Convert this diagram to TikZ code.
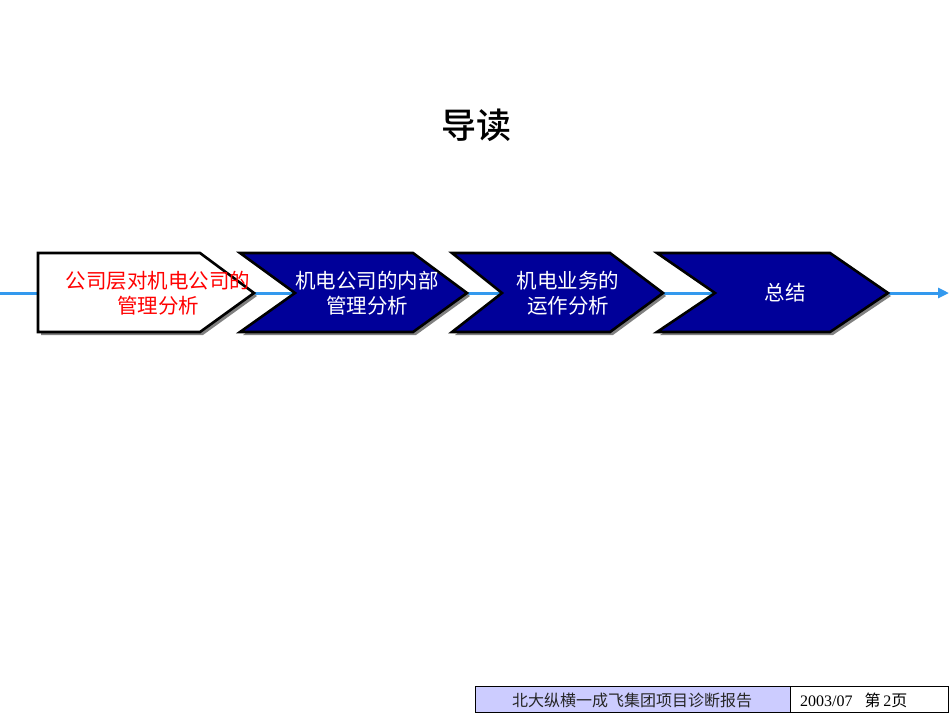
\documentclass[tikz,border=0pt]{standalone}
\usepackage{fontspec}
\setmainfont{Liberation Serif}
\newfontfamily\cjk{Noto Sans CJK SC}
\newfontfamily\cjkb{Noto Sans CJK SC Medium}
\usetikzlibrary{arrows.meta}
\definecolor{navy}{HTML}{000099}
\definecolor{flow}{HTML}{3399EE}
\definecolor{lav}{HTML}{CCCCFF}
\definecolor{shade}{HTML}{808080}
\tikzset{
  chev/.style={draw=black, line width=2.6pt, line join=miter},
  shadowpath/.style={fill=shade, draw=none},
  lbl/.style={align=center, font=\cjk\fontsize{20.5}{25}\selectfont, inner sep=0pt},
  foot/.style={draw=black, line width=0.6pt},
}
\begin{document}
\begin{tikzpicture}[x=1pt,y=-1pt]
\useasboundingbox (0,0) rectangle (950,713);
% flow line
\coordinate (fs) at (0,293);
\coordinate (fe) at (949,293);
\draw[flow, line width=3pt, -{Triangle[length=11pt,width=10pt]}] (fs) -- (fe);
% shadows
\fill[shadowpath] (41,256) -- (203,256) -- (257,296) -- (203,335) -- (41,335) -- cycle;
\fill[shadowpath] (243,256) -- (416,256) -- (470,296) -- (416,335) -- (243,335) -- (298,296) -- cycle;
\fill[shadowpath] (455,256) -- (613,256) -- (666,296) -- (613,335) -- (455,335) -- (505,296) -- cycle;
\fill[shadowpath] (660,256) -- (833,256) -- (891,296) -- (833,335) -- (660,335) -- (718,296) -- cycle;
% chevrons
\draw[chev, fill=white] (38,253) -- (200,253) -- (254,293) -- (200,332) -- (38,332) -- cycle;
\draw[chev, fill=navy] (240,253) -- (413,253) -- (467,293) -- (413,332) -- (240,332) -- (295,293) -- cycle;
\draw[chev, fill=navy] (452,253) -- (610,253) -- (663,293) -- (610,332) -- (452,332) -- (502,293) -- cycle;
\draw[chev, fill=navy] (657,253) -- (830,253) -- (888,293) -- (830,332) -- (657,332) -- (715,293) -- cycle;
% labels
\node[lbl, text=red] (t1) at (158,293) {公司层对机电公司的\\管理分析};
\node[lbl, text=white] (t2) at (367,293) {机电公司的内部\\管理分析};
\node[lbl, text=white] (t3) at (568,293) {机电业务的\\运作分析};
\node[lbl, text=white] (t4) at (785,293) {总结};
% title
\node[font=\cjkb\fontsize{35}{40}\selectfont, inner sep=0pt] (title) at (476,125) {导读};
% footer
\draw[foot, fill=lav] (475,686) rectangle (790,712);
\draw[foot, fill=white] (790,686) rectangle (948,712);
\node[font=\cjk\fontsize{16}{18}\selectfont, inner sep=0pt, text=black!85] (f1) at (632,700) {北大纵横一成飞集团项目诊断报告};
\node[font=\fontsize{16}{18}\selectfont, inner sep=0pt, anchor=west] (f2) at (800,700) {2003/07\ \ \ {\cjk 第}\,2{\cjk 页}};
\end{tikzpicture}
\end{document}
